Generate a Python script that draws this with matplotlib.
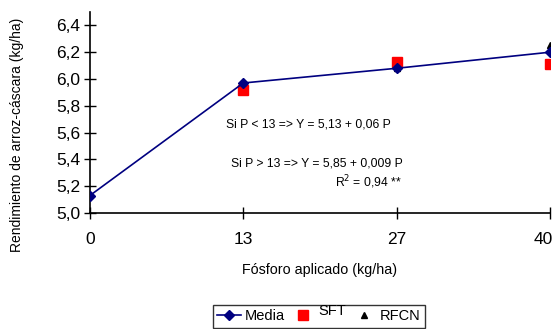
import matplotlib
matplotlib.use('Agg')
import matplotlib.pyplot as plt
import matplotlib.transforms as mtransforms
import numpy as np

plt.rcParams['font.family'] = ['Liberation Sans', 'DejaVu Sans']

# data
dosis = ['0', '13', '27', '40']
media = [5.13, 5.97, 6.08, 6.20]
sft = [np.nan, 5.92, 6.13, 6.11]
rfcn = [np.nan, 5.98, 6.08, 6.25]

x = np.arange(len(dosis))

fig = plt.figure(figsize=(5.58, 3.29), dpi=100)
ax = fig.add_axes([0.161, 0.3526, 0.825, 0.611])

ax.plot(x, rfcn, linestyle='none', marker='^', color='black', markersize=4.5, label='RFCN', zorder=3)
ax.plot(x, sft, linestyle='none', marker='s', color='red', markersize=6.5, label='SFT', zorder=2)
ax.plot(x, media, color='#000080', marker='D', markersize=5, linewidth=1.2, label='Media', zorder=4)

ax.set_xlim(0, 3)
ax.set_ylim(5.0, 6.5)
ax.set_xticks(x)
ax.set_xticklabels(dosis)
yt = np.arange(5.0, 6.41, 0.2)
ax.set_yticks(yt)
ax.set_yticklabels([('%.1f' % v).replace('.', ',') for v in yt])
ax.tick_params(direction='inout', length=8, width=1, labelsize=12.5)
ax.tick_params(axis='x', pad=10)
ax.tick_params(axis='y', pad=3)

# last x label sits at the figure edge, nudge it left so it fits
lbl = ax.get_xticklabels()[-1]
lbl.set_transform(lbl.get_transform() + mtransforms.ScaledTranslation(-5 / 72, 0, fig.dpi_scale_trans))

for s in ['top', 'right']:
    ax.spines[s].set_visible(False)
for s in ['left', 'bottom']:
    ax.spines[s].set_linewidth(1.2)
ax.spines['left'].set_zorder(1)

ax.set_xlabel('Fósforo aplicado (kg/ha)', fontsize=10.3, labelpad=11)
fig.text(17 / 558, 1 - 135 / 329, 'Rendimiento de arroz-cáscara (kg/ha)', fontsize=10,
         rotation=90, ha='center', va='center')

ax.text(0.887, 5.66, 'Si P < 13 => Y = 5,13 + 0,06 P', fontsize=8.7, va='center')
ax.text(0.92, 5.37, 'Si P > 13 => Y = 5,85 + 0,009 P', fontsize=8.7, va='center')
ax.text(1.60, 5.23, 'R$^2$ = 0,94 **', fontsize=8.7, va='center')

h, l = ax.get_legend_handles_labels()
order = [2, 1, 0]
leg = fig.legend([h[i] for i in order], [l[i] for i in order], loc='upper left',
                 bbox_to_anchor=(213 / 558, 1 - 305 / 329), ncol=3, frameon=True, fancybox=False,
                 edgecolor='black', fontsize=10.5, handlelength=1.6, columnspacing=0.4,
                 handletextpad=0.3, borderpad=0.3, borderaxespad=0)
leg.get_frame().set_linewidth(1.0)
leg.get_texts()[1].set_y(5)

fig.savefig('out.png', dpi=100)
